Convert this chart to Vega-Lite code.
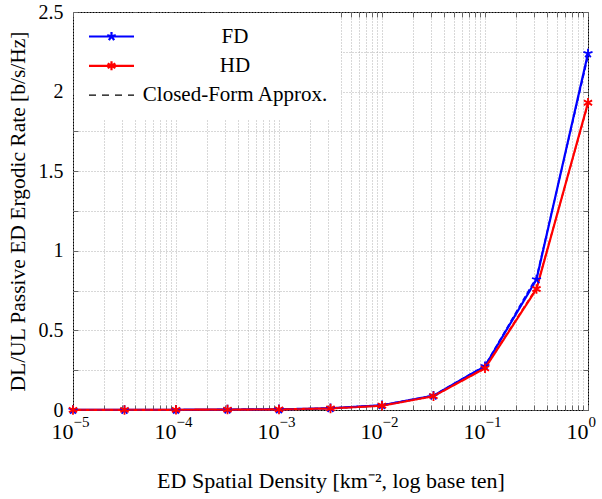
{
  "$schema": "https://vega.github.io/schema/vega-lite/v6.json",
  "width": 515,
  "height": 398,
  "autosize": {"type": "none"},
  "padding": {"left": 73, "top": 12, "right": 14, "bottom": 89},
  "background": "white",
  "config": {
    "view": {"stroke": "black", "strokeWidth": 1},
    "font": "Liberation Serif"
  },
  "data": {
    "values": [
      {"x": 0.00001, "series": "FD", "kind": "sim", "y": 0.0003},
      {"x": 0.00003162, "series": "FD", "kind": "sim", "y": 0.0008},
      {"x": 0.0001, "series": "FD", "kind": "sim", "y": 0.0015},
      {"x": 0.0003162, "series": "FD", "kind": "sim", "y": 0.003},
      {"x": 0.001, "series": "FD", "kind": "sim", "y": 0.004},
      {"x": 0.003162, "series": "FD", "kind": "sim", "y": 0.011},
      {"x": 0.01, "series": "FD", "kind": "sim", "y": 0.03},
      {"x": 0.03162, "series": "FD", "kind": "sim", "y": 0.09},
      {"x": 0.1, "series": "FD", "kind": "sim", "y": 0.275},
      {"x": 0.3162, "series": "FD", "kind": "sim", "y": 0.82},
      {"x": 1, "series": "FD", "kind": "sim", "y": 2.24},
      {"x": 0.00001, "series": "HD", "kind": "sim", "y": 0.0003},
      {"x": 0.00003162, "series": "HD", "kind": "sim", "y": 0.0007},
      {"x": 0.0001, "series": "HD", "kind": "sim", "y": 0.0013},
      {"x": 0.0003162, "series": "HD", "kind": "sim", "y": 0.0025},
      {"x": 0.001, "series": "HD", "kind": "sim", "y": 0.0035},
      {"x": 0.003162, "series": "HD", "kind": "sim", "y": 0.01},
      {"x": 0.01, "series": "HD", "kind": "sim", "y": 0.027},
      {"x": 0.03162, "series": "HD", "kind": "sim", "y": 0.087},
      {"x": 0.1, "series": "HD", "kind": "sim", "y": 0.262},
      {"x": 0.3162, "series": "HD", "kind": "sim", "y": 0.76},
      {"x": 1, "series": "HD", "kind": "sim", "y": 1.93},
      {"x": 0.00001, "series": "FD", "kind": "approx", "y": 0.0003},
      {"x": 0.00003162, "series": "FD", "kind": "approx", "y": 0.0008},
      {"x": 0.0001, "series": "FD", "kind": "approx", "y": 0.0015},
      {"x": 0.0003162, "series": "FD", "kind": "approx", "y": 0.003},
      {"x": 0.001, "series": "FD", "kind": "approx", "y": 0.004},
      {"x": 0.003162, "series": "FD", "kind": "approx", "y": 0.011},
      {"x": 0.01, "series": "FD", "kind": "approx", "y": 0.031},
      {"x": 0.03162, "series": "FD", "kind": "approx", "y": 0.092},
      {"x": 0.1, "series": "FD", "kind": "approx", "y": 0.28},
      {"x": 0.3162, "series": "FD", "kind": "approx", "y": 0.835},
      {"x": 1, "series": "FD", "kind": "approx", "y": 2.22},
      {"x": 0.00001, "series": "HD", "kind": "approx", "y": 0.0003},
      {"x": 0.00003162, "series": "HD", "kind": "approx", "y": 0.0007},
      {"x": 0.0001, "series": "HD", "kind": "approx", "y": 0.0013},
      {"x": 0.0003162, "series": "HD", "kind": "approx", "y": 0.0025},
      {"x": 0.001, "series": "HD", "kind": "approx", "y": 0.0035},
      {"x": 0.003162, "series": "HD", "kind": "approx", "y": 0.01},
      {"x": 0.01, "series": "HD", "kind": "approx", "y": 0.028},
      {"x": 0.03162, "series": "HD", "kind": "approx", "y": 0.088},
      {"x": 0.1, "series": "HD", "kind": "approx", "y": 0.266},
      {"x": 0.3162, "series": "HD", "kind": "approx", "y": 0.768},
      {"x": 1, "series": "HD", "kind": "approx", "y": 1.92}
    ]
  },
  "layer": [
    {
      "transform": [{"filter": "datum.kind === 'sim'"}],
      "mark": {"type": "line", "strokeWidth": 2.2},
      "encoding": {
        "x": {
          "field": "x", "type": "quantitative",
          "scale": {"type": "log", "domain": [0.00001, 1]},
          "axis": {
            "orient": "bottom",
            "values": [0.00001, 0.00002, 0.00003, 0.00004, 0.00005, 0.00006, 0.00007, 0.00008, 0.00009, 0.0001, 0.0002, 0.0003, 0.0004, 0.0005, 0.0006, 0.0007, 0.0008, 0.0009, 0.001, 0.002, 0.003, 0.004, 0.005, 0.006, 0.007, 0.008, 0.009, 0.01, 0.02, 0.03, 0.04, 0.05, 0.06, 0.07, 0.08, 0.09, 0.1, 0.2, 0.3, 0.4, 0.5, 0.6, 0.7, 0.8, 0.9, 1],
            "labelExpr": "abs(log(datum.value)/LN10 - round(log(datum.value)/LN10)) < 0.001 ? '10' : ''",
            "labelAlign": "right",
            "labelDx": 3,
            "labelFlush": false,
            "labelOverlap": false,
            "labelBound": false,
            "labelFontSize": 22,
            "labelColor": "black",
            "labelPadding": 16,
            "tickSize": -5,
            "tickColor": "#666666",
            "domain": false,
            "grid": true,
            "gridDash": [1, 2],
            "gridColor": "#b0b0b0",
            "title": "ED Spatial Density [km⁻², log base ten]",
            "titleFontSize": 22,
            "titleFontWeight": "normal",
            "titleColor": "black",
            "titlePadding": 28
          }
        },
        "y": {
          "field": "y", "type": "quantitative",
          "scale": {"domain": [0, 2.5], "nice": false},
          "axis": {
            "orient": "left",
            "values": [0, 0.25, 0.5, 0.75, 1, 1.25, 1.5, 1.75, 2, 2.25, 2.5],
            "format": "~g",
            "labelExpr": "datum.value % 0.5 == 0 ? datum.label : ''",
            "labelFlush": false,
            "labelOverlap": false,
            "labelFontSize": 20,
            "labelColor": "black",
            "labelPadding": 15,
            "tickSize": -5,
            "tickColor": "#666666",
            "domain": false,
            "grid": true,
            "gridDash": [1, 2],
            "gridColor": "#b0b0b0",
            "title": "DL/UL Passive ED Ergodic Rate [b/s/Hz]",
            "titleFontSize": 21.5,
            "titleFontWeight": "normal",
            "titleColor": "black",
            "titlePadding": 9
          }
        },
        "color": {
          "field": "series", "type": "nominal",
          "scale": {"domain": ["FD", "HD", "Closed-Form Approx."], "range": ["#0000ff", "#ff0000", "#000000"]},
          "legend": {
            "title": null,
            "orient": "top-left",
            "offset": 1,
            "padding": 13,
            "fillColor": "white",
            "symbolSize": 81,
            "symbolOffset": 14,
            "symbolStrokeWidth": 2,
            "labelOffset": 113,
            "labelAlign": "center",
            "labelFontSize": 21,
            "labelColor": "black",
            "labelLimit": 400,
            "rowPadding": 7.3,
            "encode": {
              "symbols": {
                "update": {
                  "shape": {"signal": "datum.value === 'FD' ? 'M-5,0L5,0M0,0L0,-1M0,0L0.951,-0.309M0,0L0.588,0.809M0,0L-0.588,0.809M0,0L-0.951,-0.309' : datum.value === 'HD' ? 'M-5,0L5,0M0,-1L0,1M0.866,-0.5L-0.866,0.5M0.866,0.5L-0.866,-0.5' : 'M-5,0L5,0'"},
                  "strokeWidth": {"signal": "datum.value === 'Closed-Form Approx.' ? 1.3 : 2.2"}
                }
              }
            }
          }
        },
        "strokeDash": {
          "field": "series", "type": "nominal",
          "scale": {"domain": ["FD", "HD", "Closed-Form Approx."], "range": [[1, 0], [1, 0], [7, 6]]},
          "legend": {
            "title": null,
            "orient": "top-left",
            "offset": 1,
            "padding": 13,
            "fillColor": "white",
            "symbolSize": 81,
            "symbolOffset": 14,
            "symbolStrokeWidth": 2,
            "labelOffset": 113,
            "labelAlign": "center",
            "labelFontSize": 21,
            "labelColor": "black",
            "labelLimit": 400,
            "rowPadding": 7.3
          }
        }
      }
    },
    {
      "transform": [{"filter": "datum.kind === 'approx'"}],
      "mark": {"type": "line", "strokeWidth": 1.4, "strokeDash": [5, 3]},
      "encoding": {
        "x": {
          "field": "x", "type": "quantitative",
          "axis": {
            "orient": "bottom",
            "values": [0.00001, 0.0001, 0.001, 0.01, 0.1, 1],
            "labelExpr": "round(log(datum.value)/LN10) == 0 ? '0' : '−' + (-round(log(datum.value)/LN10))",
            "labelAlign": "left",
            "labelDx": 3,
            "labelFlush": false,
            "labelOverlap": false,
            "labelBound": false,
            "labelFontSize": 15,
            "labelColor": "black",
            "labelPadding": 4,
            "ticks": false,
            "domain": false,
            "grid": false,
            "title": null
          }
        },
        "y": {"field": "y", "type": "quantitative", "axis": null},
        "stroke": {
          "field": "series", "type": "nominal",
          "scale": {"domain": ["FD", "HD"], "range": ["#0000ff", "#ff0000"]},
          "legend": null
        }
      }
    },
    {
      "transform": [{"filter": "datum.kind === 'sim'"}],
      "mark": {"type": "point", "filled": false, "strokeWidth": 1.8, "size": 90, "opacity": 1},
      "encoding": {
        "x": {
          "field": "x", "type": "quantitative",
          "axis": {
            "orient": "top",
            "values": [0.00001, 0.00002, 0.00003, 0.00004, 0.00005, 0.00006, 0.00007, 0.00008, 0.00009, 0.0001, 0.0002, 0.0003, 0.0004, 0.0005, 0.0006, 0.0007, 0.0008, 0.0009, 0.001, 0.002, 0.003, 0.004, 0.005, 0.006, 0.007, 0.008, 0.009, 0.01, 0.02, 0.03, 0.04, 0.05, 0.06, 0.07, 0.08, 0.09, 0.1, 0.2, 0.3, 0.4, 0.5, 0.6, 0.7, 0.8, 0.9, 1],
            "labels": false, "grid": false, "domain": false,
            "tickSize": -5, "tickColor": "#666666", "title": null
          }
        },
        "y": {
          "field": "y", "type": "quantitative",
          "axis": {
            "orient": "right",
            "values": [0, 0.25, 0.5, 0.75, 1, 1.25, 1.5, 1.75, 2, 2.25, 2.5],
            "labels": false, "grid": false, "domain": false,
            "tickSize": -5, "tickColor": "#666666", "title": null
          }
        },
        "stroke": {
          "field": "series", "type": "nominal",
          "scale": {"domain": ["FD", "HD"], "range": ["#0000ff", "#ff0000"]},
          "legend": null
        },
        "shape": {
          "field": "series", "type": "nominal",
          "scale": {"domain": ["FD", "HD"], "range": ["M0,0L0,-1M0,0L0.951,-0.309M0,0L0.588,0.809M0,0L-0.588,0.809M0,0L-0.951,-0.309", "M0,-1L0,1M0.866,-0.5L-0.866,0.5M0.866,0.5L-0.866,-0.5"]},
          "legend": null
        }
      }
    }
  ],
  "resolve": {"axis": {"x": "independent", "y": "independent"}}
}
